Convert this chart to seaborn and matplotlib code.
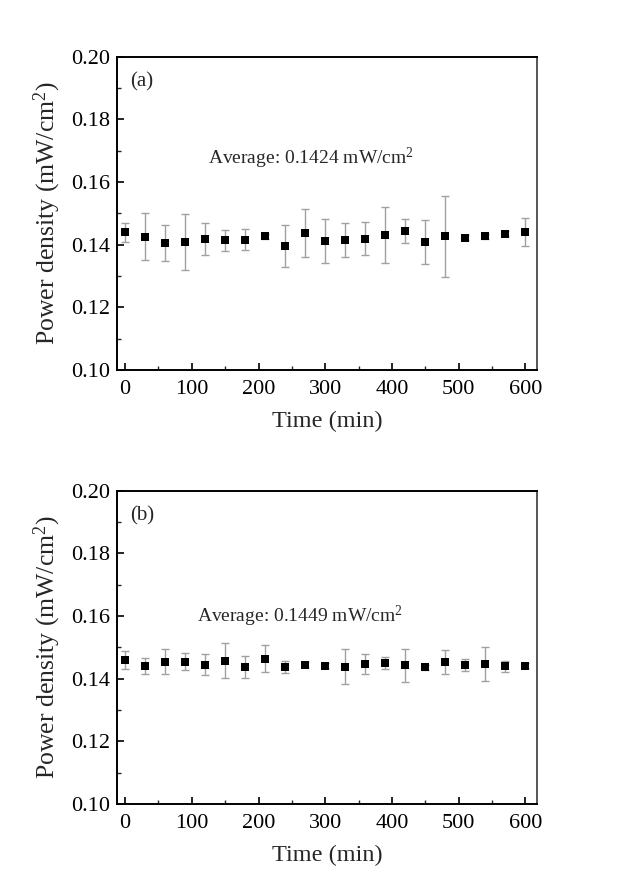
import numpy as np
import pandas as pd
import matplotlib
matplotlib.use('Agg')
import matplotlib.pyplot as plt
from matplotlib.ticker import MultipleLocator, FormatStrFormatter
import seaborn as sns

# Data
time_min = [0, 30, 60, 90, 120, 150, 180, 210, 240, 270, 300,
            330, 360, 390, 420, 450, 480, 510, 540, 570, 600]

power_a = [0.1439, 0.1425, 0.1405, 0.1409, 0.1418, 0.1414, 0.1416, 0.1427, 0.1395, 0.1437, 0.1412,
           0.1415, 0.1419, 0.1430, 0.1444, 0.1409, 0.1427, 0.1422, 0.1426, 0.1435, 0.1440]
err_a = [0.0031, 0.0075, 0.0057, 0.0090, 0.0050, 0.0033, 0.0034, 0.0008, 0.0067, 0.0076, 0.0070,
         0.0053, 0.0053, 0.0090, 0.0038, 0.0070, 0.0129, 0.0008, 0.0008, 0.0008, 0.0044]

power_b = [0.1459, 0.1440, 0.1454, 0.1454, 0.1445, 0.1458, 0.1436, 0.1464, 0.1437, 0.1444, 0.1442,
           0.1438, 0.1448, 0.1450, 0.1443, 0.1437, 0.1453, 0.1445, 0.1446, 0.1440, 0.1442]
err_b = [0.0029, 0.0025, 0.0040, 0.0027, 0.0033, 0.0057, 0.0035, 0.0043, 0.0018, 0.0008, 0.0008,
         0.0056, 0.0032, 0.0018, 0.0053, 0.0008, 0.0038, 0.0019, 0.0054, 0.0017, 0.0008]

panel_labels = ['(a)', '(b)']
average_texts = ['Average: 0.1424 mW/cm$^2$', 'Average: 0.1449 mW/cm$^2$']
average_pos = [(124, 0.1675), (108, 0.1600)]

sns.set_theme(style='ticks')
plt.rcParams['font.family'] = ['Liberation Serif', 'DejaVu Serif']
plt.rcParams['mathtext.fontset'] = 'custom'
plt.rcParams['mathtext.rm'] = 'Liberation Serif'
plt.rcParams['mathtext.it'] = 'Liberation Serif:italic'
plt.rcParams['mathtext.bf'] = 'Liberation Serif:bold'

fig = plt.figure(figsize=(6.33, 8.85), dpi=100)
ax_a = fig.add_axes([0.185, 0.582, 0.664, 0.354])
ax_b = fig.add_axes([0.185, 0.0915, 0.664, 0.354])

for ax, power, err, lab, txt, pos in zip([ax_a, ax_b], [power_a, power_b], [err_a, err_b],
                                         panel_labels, average_texts, average_pos):
    df = pd.DataFrame({'time': time_min, 'power': power, 'err': err})

    # Error bars first, then the square markers on top
    ax.errorbar(df['time'], df['power'], yerr=df['err'], fmt='none',
                ecolor='#a0a0a0', elinewidth=1.0, capsize=3, capthick=1.0, zorder=2)
    sns.scatterplot(data=df, x='time', y='power', marker='s', s=40, color='black',
                    edgecolor='black', linewidth=0, ax=ax, zorder=3)

    ax.set_xlim(-12, 618)
    ax.set_ylim(0.10, 0.20)
    ax.xaxis.set_major_locator(MultipleLocator(100))
    ax.xaxis.set_minor_locator(MultipleLocator(50))
    ax.yaxis.set_major_locator(MultipleLocator(0.02))
    ax.yaxis.set_minor_locator(MultipleLocator(0.01))
    ax.yaxis.set_major_formatter(FormatStrFormatter('%.2f'))
    ax.tick_params(which='major', direction='in', length=5, width=1.2, labelsize=16,
                   colors='black', top=False, right=False)
    ax.tick_params(axis='x', which='major', pad=7)
    ax.tick_params(axis='y', which='major', pad=5)
    ax.tick_params(which='minor', direction='in', length=3, width=1.0,
                   top=False, right=False)
    for side in ['left', 'bottom', 'top', 'right']:
        ax.spines[side].set_linewidth(1.4)
        ax.spines[side].set_color('black')
    ax.spines['right'].set_color('#555555')

    ax.set_xlabel('Time (min)', fontsize=17.5, labelpad=9)
    ax.set_ylabel('Power density (mW/cm$^2$)', fontsize=18.5, labelpad=6)
    ax.text(0.03, 0.92, lab, transform=ax.transAxes, fontsize=15, va='center', ha='left')
    ax.text(pos[0], pos[1], txt, fontsize=14, va='center', ha='left')

fig.savefig('out.png', dpi=100, facecolor='white')
